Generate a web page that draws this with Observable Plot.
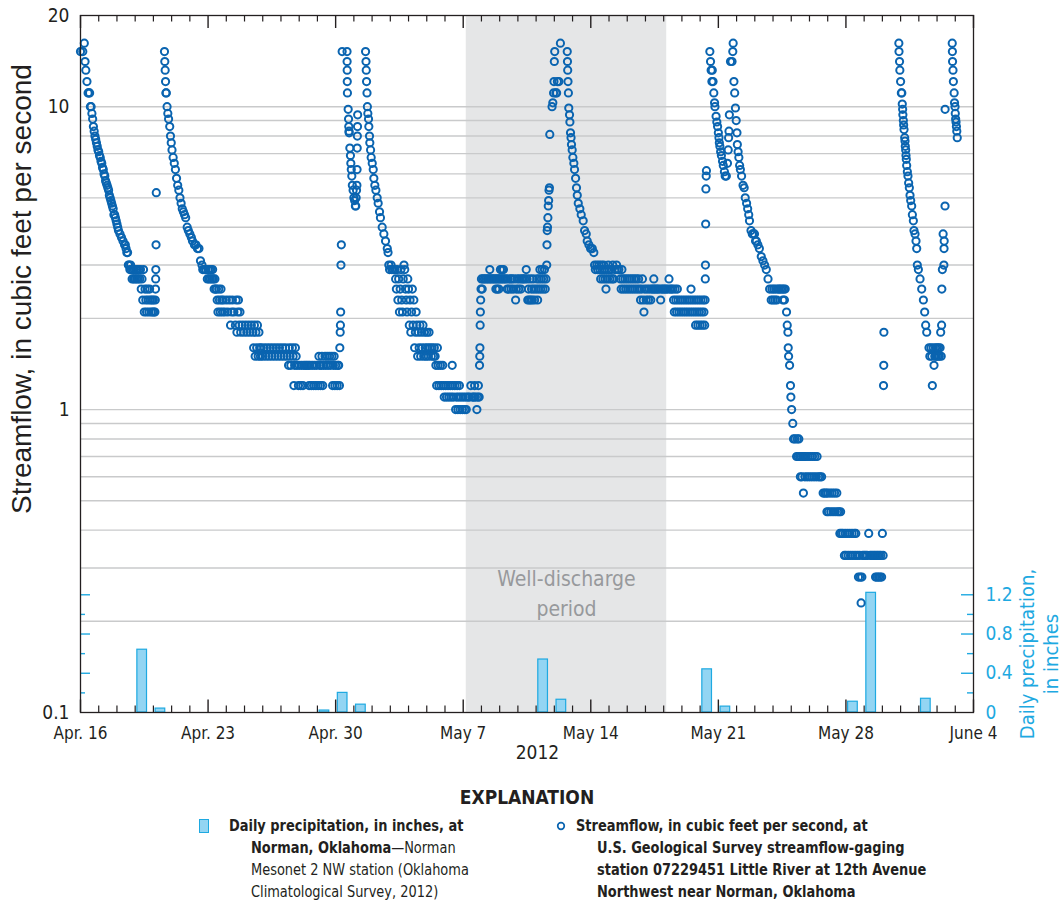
<!DOCTYPE html>
<html><head><meta charset="utf-8">
<script src="https://cdn.jsdelivr.net/npm/d3@7"></script>
<script src="https://cdn.jsdelivr.net/npm/@observablehq/plot@0.6"></script>
<style>
body{margin:0;background:#fff;}
#wrap{position:relative;width:1063px;height:903px;overflow:hidden;font-family:"Liberation Sans Narrow","Arial Narrow","DejaVu Sans Condensed",sans-serif;color:#231f20;}
#wrap svg.layer{position:absolute;left:0;top:0;}
.abs{position:absolute;white-space:nowrap;}
.expl{font-weight:bold;font-size:19px;left:0;width:1054px;text-align:center;top:786px;}
.leg{font-size:16px;line-height:22px;transform:scaleX(0.9);transform-origin:0 0;}
.b{font-weight:bold;}
</style></head>
<body><div id="wrap"></div>
<script>
// ---------------- data ----------------
const startDate = new Date(Date.UTC(2012, 3, 16));
const endDate = new Date(Date.UTC(2012, 5, 4));

// daily precipitation (inches), Norman Mesonet 2 NW
const precipDays = ["2012-04-19","2012-04-20","2012-04-29","2012-04-30","2012-05-01","2012-05-11","2012-05-12","2012-05-20","2012-05-21","2012-05-28","2012-05-29","2012-06-01"];
const precipInches = [0.64, 0.04, 0.02, 0.20, 0.08, 0.54, 0.13, 0.44, 0.06, 0.11, 1.22, 0.14];

// streamflow readings: [hours after Apr. 16 00:00, cubic feet per second]
const flowApr16 = [[0,15.2],[3,15.2],[5,16.2],[6,14.1],[7,13.2],[8.5,12.1],[10,11.1],[11,11.1],[12,11.1],[13,10],[14,10],[15,9.5],[16,9.1],[17,8.6],[18,8.3],[19,8],[20,7.8],[21,7.6],[22,7.4],[23,7.2],[24,7.1],[25,6.9],[26,6.8],[27,6.6],[28,6.5],[29,6.3],[30,6.2],[31,6],[32,5.9],[33,5.7],[34,5.6],[35,5.5],[36,5.4],[37,5.3],[38,5.1],[39,5.0],[40,4.9],[41,4.8],[42,4.7],[43,4.6],[44,4.4],[45,4.4],[46,4.3],[47,4.2],[48,4.1],[49,4.0],[50,3.9],[52,3.8],[54,3.7],[56,3.6],[58,3.5],[59,3.5],[60,3.4],[61,3.3],[62,3.3],[63,3.0],[64,3.0],[65,2.9],[66,3.0],[67,2.9],[68,2.7],[69,2.9],[70,2.7],[71,2.9],[72,2.7],[73,2.9],[74,2.7],[75,2.9],[76,2.7],[77,2.9],[78,2.7],[79,2.9],[80,2.5],[81,2.7],[82,2.3],[83,2.9],[84,2.1],[85,2.5],[86,2.3],[87,2.1],[88,2.5],[89,2.3],[90,2.1],[91,2.5],[92,2.3],[93,2.1],[94,2.3],[95,2.1],[96,2.3],[97,2.1],[98,2.1],[98.5,2.3],[98.8,2.5],[99,2.7],[99.2,2.9],[99.5,3.5],[99.8,5.2]];
const flowApr20 = [[110.6,15.2],[111,14.1],[111.5,13.2],[112,12.1],[112.5,11.1],[113,11.1],[114,10],[115,9.5],[116,9.1],[117.5,8.6],[118.5,8.0],[119.5,7.6],[120.5,7.2],[122,6.8],[123.5,6.5],[125,6.2],[126.5,5.8],[128,5.5],[129.5,5.3],[131,5.0],[132.5,4.8],[134,4.6],[135.5,4.5],[137,4.4],[138.5,4.3],[140.5,4.0],[142,3.9],[144,3.8],[146,3.7],[147.5,3.6],[150,3.5],[152,3.5],[154,3.4],[156,3.4],[158,3.1],[160,3.0],[161,2.9],[163,2.9],[165,2.9],[167,2.7],[168,2.9],[169,2.7],[170,2.9],[171,2.7],[172,2.9],[173,2.7],[174,2.9],[175,2.7],[176,2.5],[177,2.7],[178,2.5],[179,2.5],[180,2.3],[181,2.1],[182,2.5],[183,2.3],[184,2.1],[185,2.5],[186,2.3],[187,2.1],[188,2.3],[190,2.1],[192,2.3],[194,2.1],[196,2.3],[197.6,1.9],[199,2.1],[200,2.3],[202,2.1],[204,1.9],[205,2.3],[206,1.8],[207,2.1],[208,2.3],[209,1.9],[210,2.1],[211,1.8],[213,1.9],[215,1.8],[217,1.9],[219,1.8],[221,1.9],[223,1.8],[225,1.9],[227,1.8],[228,1.6],[229,1.9],[230,1.5],[231,1.8],[232,1.6],[233,1.9],[234,1.5],[235,1.8],[236,1.6],[237,1.5],[238,1.6],[240,1.5],[242,1.6],[244,1.5],[246,1.6],[248,1.5],[250,1.6],[252,1.5],[254,1.6],[256,1.5],[258,1.6],[260,1.5],[262,1.6],[264,1.5],[266,1.6],[268,1.5],[270,1.6],[272,1.5],[274,1.4],[275,1.6],[276,1.5],[277,1.4],[279,1.6],[280,1.5],[281,1.2],[282,1.4],[283,1.6],[284,1.5],[285,1.4],[287,1.2],[288,1.4],[290,1.2],[291,1.4],[293,1.2],[294,1.4],[296,1.4],[298,1.4],[300,1.4],[301,1.2],[302,1.4],[304,1.2],[305,1.4],[307,1.2],[308,1.4],[310,1.2],[311,1.4],[313,1.2],[314,1.5],[315,1.4],[316,1.2],[317,1.4],[318,1.5],[319,1.2],[320,1.4],[322,1.5],[323,1.4],[325,1.5],[326,1.4],[328,1.5],[329,1.4],[331,1.5],[332,1.2],[333,1.4],[334,1.5],[335,1.2],[336,1.4],[338,1.2],[339,1.4],[340,1.4],[341,1.2]];
const flowApr30 = [[341.5,1.6],[342,1.8],[342.3,1.9],[342.6,2.1],[343,3.0],[343.5,3.5],[344.6,15.2],[351,15.2],[351.1,14.1],[351.2,13.2],[351.3,12.1],[351.5,11.1],[352.5,9.8],[353,9.1],[353.3,8.6],[353.6,8.3],[353.8,8.2],[354.7,7.3],[355.5,6.9],[356,6.5],[356.6,6.2],[357.3,5.9],[358,5.5],[359,5.3],[360,5.0],[361,4.9],[362,4.7],[362.5,4.7],[363,5.0],[363.5,5.3],[364,5.5],[364.2,6.2],[364.4,7.3],[364.6,8.0],[364.8,8.6],[365,9.4],[375.4,15.2],[376,14.1],[376.3,13.2],[376.7,12.1],[377.3,11.1],[377.8,10],[378.4,9.5],[379.3,9.1],[379.7,8.6],[380.6,8.0],[381,7.6],[382,7.2],[382.8,6.8],[384.2,6.5],[385.5,6.2],[386.3,5.8],[387.6,5.5],[389,5.3],[390.7,5.0],[392,4.8],[393.8,4.5],[395,4.3],[397.3,4.0],[399.5,3.8],[401.7,3.6],[404,3.4],[405,3.3],[406,3.0],[407,2.9],[409,3.0],[410,2.9],[412,2.9],[414,2.9],[415,2.7],[416,2.5],[417,2.9],[418,2.3],[419,2.7],[420,2.1],[421,2.5],[422,2.9],[423,2.3],[424,2.1],[425,2.7],[426,3.0],[427,2.9],[428,2.5],[429,2.3],[430,2.1],[431,2.7],[432,2.5],[433,1.9],[434,2.3],[435,1.8],[436,2.1],[437,2.5],[438,1.9],[439,2.3],[440,1.6],[441,1.8],[442,2.1],[443,1.9],[444,1.5],[445,1.8],[446,1.6],[447,1.9],[448,1.5],[449,1.8],[450,1.6],[451,1.9],[452,1.5],[453,1.8],[454,1.6],[455,1.5],[456,1.8],[457,1.6],[458,1.5],[459,1.8],[460,1.6],[462,1.5],[463,1.6],[465,1.5],[466,1.6],[467,1.5],[468,1.4],[469,1.2],[470,1.6],[471,1.4],[472,1.2],[474,1.4],[475,1.2],[477,1.4],[478,1.2],[479,1.1],[481,1.2],[482,1.1],[484,1.2],[485,1.1],[487,1.2],[488,1.1],[489.5,1.4],[490,1.2],[491,1.1],[493,1.2],[494,1.0],[495,1.1],[496,1.2],[497,1.0],[498,1.1],[499,1.2],[500,1.0],[501,1.1],[503,1.0],[504,1.1],[506,1.0],[507,1.1],[508,1.0],[510,1.1],[512,1.1],[514,1.2],[516,1.1],[518,1.1],[519,1.2],[520,1.1],[522,1.0],[523,1.1],[524,1.2],[525,1.1]];
const flowMay07 = [[525.5,1.4],[525.8,1.5],[526,1.6],[526.3,1.9],[526.6,2.1],[527,2.3],[527.5,2.5],[528,2.7],[529,2.5],[530,2.7],[532,2.7],[534,2.7],[536,2.7],[538,2.7],[539,2.9],[540,2.7],[542,2.7],[544,2.7],[546,2.7],[547,2.5],[548,2.7],[549,2.5],[550,2.7],[551,2.5],[552,2.7],[553,2.9],[554,2.7],[555,2.9],[556,2.7],[557,2.9],[558,2.7],[560,2.7],[562,2.5],[563,2.7],[564,2.5],[566,2.7],[567,2.5],[568,2.7],[570,2.5],[571,2.7],[573,2.3],[574,2.5],[575,2.7],[577,2.5],[578,2.7],[580,2.5],[581,2.7],[583,2.7],[585,2.7],[587,2.9],[588,2.7],[589,2.3],[590,2.5],[591,2.3],[592,2.7],[593,2.3],[594,2.5],[595,2.3],[596,2.7],[597,2.5],[598,2.3],[600,2.5],[601,2.7],[602,2.3],[603,2.5],[604,2.7],[605,2.9],[606,2.5],[607,2.7],[608,2.9],[609,2.5],[610,2.7],[611,2.9],[612,2.5],[613,2.7],[614,3.0],[614.3,3.5],[614.6,3.9],[615,4.0],[615.5,4.3],[616,4.7],[616.5,4.9],[617,5.3],[617.5,5.4],[618,8.1],[621,10.0],[622,10.3],[623,11.1],[623.5,12.1],[624,14.1],[624.5,15.2],[626,11.1],[627,11.1],[628,12.1],[630,12.1],[632,16.2],[641,15.2],[641.3,14.1],[641.6,13.2],[642,12.1],[642.5,11.1],[643,9.9],[644,9.4],[644.5,8.9],[645.3,8.2],[646,7.9],[646.6,7.5],[647.5,7.2],[648.4,6.8],[649.7,6.5],[650.6,6.2],[652,5.8],[653.2,5.4],[654.2,5.1],[655.5,4.8],[657.6,4.6],[659.4,4.4],[662,4.2],[663.8,3.9],[666,3.8],[667.3,3.6],[669.5,3.5],[671.7,3.4],[674,3.4],[676,3.3],[677,3.0]];
const flowMay14 = [[678,2.9],[680,3.0],[681,2.9],[683,3.0],[684,2.9],[685,2.7],[686,3.0],[687,2.9],[688,2.7],[689,3.0],[690,2.9],[691,2.7],[692,2.5],[693,2.9],[694,2.7],[695,3.0],[696,2.9],[697,2.7],[699,2.9],[700,2.7],[701,3.0],[702,2.7],[704,2.9],[706,3.0],[707,2.9],[709,2.9],[711,2.7],[712,2.5],[713,2.9],[714,2.7],[715,2.5],[717,2.7],[718,2.5],[720,2.7],[721,2.5],[723,2.7],[724,2.5],[726,2.7],[727,2.5],[729,2.7],[730,2.5],[732,2.7],[733,2.5],[735,2.7],[736,2.5],[737.5,2.3],[739,2.5],[740,2.7],[741,2.3],[742,2.1],[743,2.5],[745,2.3],[746,2.5],[748,2.3],[749,2.5],[751,2.3],[752,2.5],[754,2.5],[755,2.7],[756,2.5],[758,2.5],[760,2.5],[762,2.5],[764,2.3],[765,2.5],[767,2.5],[769,2.5],[771,2.5],[773,2.5],[775,2.7],[776,2.5],[778,2.5],[780,2.5],[781,2.3],[782,2.1],[783,2.5],[784,2.3],[785,2.1],[786,2.5],[787,2.3],[788,2.1],[790,2.3],[791,2.1],[793,2.3],[794,2.1],[796,2.3],[797,2.1],[799,2.3],[800,2.1],[802,2.3],[803,2.1],[804,2.5],[805,2.3],[806,2.1],[808,2.3],[809,2.1],[810,1.9],[811,2.3],[812,2.1],[813,1.9],[814,2.3],[815,2.1],[816,1.9],[817,2.3],[818,2.1],[819,1.9],[820,2.3],[821,2.1],[822,1.9],[822.5,2.3],[822.8,2.7],[823,3.0],[823.3,4.1],[823.6,5.35],[824,5.9],[824.3,6.15]];
const flowMay20 = [[828.8,15.2],[829.7,14.1],[830.5,13.2],[831.5,12.1],[832,13.2],[833,12.1],[834,11.1],[835,10.3],[835.5,10.0],[837,9.3],[838,8.9],[839,8.6],[840,8.2],[840.8,7.9],[841.3,7.6],[842,7.4],[843,7.1],[844,6.9],[845.5,6.6],[846.5,6.4],[848,6.1],[849,5.9],[850.5,5.9],[852,6.5],[853,7.2],[853.5,7.9],[854,8.3],[854.5,9.4],[856,14.1],[858,14.1],[859,15.2],[859.5,16.2],[860.5,12.1],[861.5,11.1],[862.5,9.9],[863.5,9.0],[864.5,8.2],[865,7.5],[866,7.1],[867,6.8],[868,6.4],[869,6.2],[870.6,5.9],[872.5,5.5],[874,5.4],[875.4,5.0],[877.2,4.8],[878.6,4.6],[880,4.4],[881,4.2],[883,3.9],[884.7,3.8],[886,3.8],[887.6,3.8],[889,3.6],[890,3.6],[892,3.5],[894,3.4],[896.5,3.2],[898.7,3.1],[900.9,3.0],[903.1,2.9],[905.4,2.7],[907.5,2.5],[909.6,2.3],[910.5,2.5],[912,2.3],[913,2.5],[914.5,2.3],[915.5,2.5],[917,2.3],[918.4,2.5],[920,2.5],[922,2.5],[924,2.5],[925,2.3],[926,2.5],[927,2.3],[928,2.5],[929.8,2.1],[930.7,1.9],[931.6,1.8],[932,1.6],[932.5,1.5],[933.8,1.4],[935,1.2],[935.5,1.1],[936.5,1.0],[938,0.9],[939,0.8],[941,0.8],[943,0.7],[944,0.8],[945,0.7],[946,0.8],[947,0.7],[948,0.6],[949,0.7],[950,0.6],[951,0.7],[952,0.53],[953,0.7],[954,0.6],[955,0.7],[957,0.6],[958,0.7],[960,0.6],[961,0.7],[963,0.6],[964,0.7],[966,0.6],[967,0.7],[969,0.6],[970,0.7],[972,0.6],[974,0.6],[976,0.6],[978,0.53],[980,0.53],[982,0.53],[983,0.46],[984,0.53],[985,0.46],[987,0.53],[988,0.46],[990,0.53],[991,0.46],[993,0.53],[994,0.46],[996,0.53],[997,0.46],[999,0.46],[1000,0.39],[1001,0.46],[1002,0.39],[1004,0.39],[1006,0.33],[1007,0.39],[1008,0.33],[1010,0.39],[1011,0.33],[1013,0.39],[1014,0.33],[1016,0.39],[1017,0.33],[1019,0.39],[1020,0.33],[1021,0.39],[1023,0.33],[1024.5,0.28],[1026,0.33],[1027,0.28],[1028,0.23],[1029,0.28],[1030,0.33],[1032,0.33],[1034,0.33],[1036,0.33],[1038,0.39],[1040,0.33],[1042,0.33],[1044,0.33],[1046,0.33],[1047,0.28],[1048,0.33],[1049,0.28],[1050,0.33],[1051,0.28],[1052,0.33],[1053,0.28],[1054,0.33],[1055,0.28],[1056,0.39],[1057,0.33],[1057.5,1.2],[1057.8,1.4],[1058,1.8]];
const flowMay30 = [[1077.7,16.2],[1077.9,15.2],[1078.6,14.1],[1079,13.2],[1080,12.1],[1081,11.1],[1081.6,11.1],[1082.2,10.2],[1082.7,9.8],[1083,9.4],[1083.6,9.0],[1084,8.7],[1084.5,8.4],[1085.4,7.9],[1085.8,7.7],[1086.2,7.4],[1086.7,7.2],[1087.1,6.9],[1087.5,6.7],[1088,6.4],[1088.9,6.1],[1089.7,5.9],[1090.6,5.6],[1091.5,5.4],[1092.4,5.1],[1093.3,4.9],[1094.6,4.7],[1095.5,4.4],[1096.8,4.2],[1097.6,3.9],[1099,3.8],[1100.3,3.6],[1101.2,3.4],[1102,3.0],[1103.4,2.9],[1105.6,2.7],[1107.8,2.5],[1110,2.3],[1111.7,2.1],[1113,1.9],[1114.4,1.8],[1117.4,1.6],[1118.5,1.5],[1120,1.6],[1121,1.5],[1121.8,1.2],[1123,1.6],[1124,1.4],[1125,1.5],[1126,1.6],[1127,1.5],[1128,1.6],[1129,1.5],[1130,1.6],[1131,1.5],[1132,1.6],[1132.8,1.8],[1133.5,1.5],[1134,1.9],[1134.3,2.5],[1135,2.9],[1136,3.8],[1137,3.0],[1137.2,3.4],[1137.4,3.6],[1138.5,4.7],[1138.6,9.8],[1148,16.2],[1148.2,15.2],[1148.4,14.1],[1149,13.2],[1149.5,12.1],[1150.5,11.1],[1151,10.3],[1151.7,10.0],[1152,9.5],[1152.5,9.1],[1153,8.9],[1153.5,8.6],[1154,8.3],[1154.6,7.9]];

const wellPeriod = ["2012-05-07T04:00Z", "2012-05-18T04:00Z"];
const yTickValues = [0.1, 1, 10, 20];
const gridValues = [0.2, 0.3, 0.4, 0.5, 0.6, 0.7, 0.8, 0.9, 1, 2, 3, 4, 5, 6, 7, 8, 9, 10];
const xTickLabels = ["Apr. 16", "Apr. 23", "Apr. 30", "May 7", "May 14", "May 21", "May 28", "June 4"];
const precipLabelValues = [0, 0.4, 0.8, 1.2];
const precipMajorTicks = [0.4, 0.8, 1.2];
const precipMinorTicks = [0.2, 0.6, 1.0];

// ---------------- build ----------------
const HOUR = 3600e3, DAY = 864e5;
const flow = [flowApr16, flowApr20, flowApr30, flowMay07, flowMay14, flowMay20, flowMay30]
  .flatMap(a => a.map(([h, v]) => ({date: new Date(+startDate + h * HOUR), cfs: v})));
const precip = precipDays.map((d, i) => ({date: new Date(d + "T00:00Z"), inches: precipInches[i]}));
const shade = [{start: new Date(wellPeriod[0]), end: new Date(wellPeriod[1])}];
const allDays = d3.utcDay.range(startDate, new Date(+endDate + DAY));
const majorDays = allDays.filter((d, i) => i % 7 === 0);
const minorDays = allDays.filter((d, i) => i % 7 !== 0);
const labelByTime = new Map(majorDays.map((d, i) => [+d, xTickLabels[i]]));

const FONT = '"Liberation Sans Narrow","Arial Narrow","DejaVu Sans Condensed",sans-serif';
const W = 1063, H = 760, ML = 80, MR = 90, MT = 15, MB = 48;
const FW = W - ML - MR, FH = H - MT - MB;
const BLUE = "#0a64b0", CYAN = "#1ea9e1", INK = "#231f20";
const common = {
  width: W, height: H, marginLeft: ML, marginRight: MR, marginTop: MT, marginBottom: MB,
  x: {type: "utc", domain: [startDate, endDate], axis: null},
  style: {fontFamily: FONT, fontSize: "17px", color: INK, background: "transparent", overflow: "visible"}
};
const logY = {type: "log", domain: [0.1, 20], axis: null};

// layer A: shading + grid
const layerA = Plot.plot({...common, y: logY, marks: [
  Plot.rect(shade, {x1: "start", x2: "end", y1: 0.1, y2: 20, fill: "#e5e6e7"}),
  Plot.ruleY(gridValues, {stroke: "#c9cacb", strokeWidth: 1.4}),
  Plot.text(shade, {x: d => new Date((+d.start + +d.end) / 2), text: () => "Well-discharge\nperiod",
    frameAnchor: "bottom", dy: -121, lineAnchor: "middle", lineHeight: 1.4, fill: "#97999c", fontSize: 21})
]});

// layer B: precipitation on its own linear scale (0.2 in. = 19.6 px)
const precipTop = FH / 98.1;
const layerB = Plot.plot({...common, y: {domain: [0, precipTop], axis: null}, marks: [
  Plot.rect(precip, {x1: d => new Date(+d.date + 0.12 * DAY), x2: d => new Date(+d.date + 0.65 * DAY),
    y1: 0, y2: "inches", fill: "#93d5f3", stroke: CYAN, strokeWidth: 1.2}),
  Plot.ruleY(precipMajorTicks, {stroke: CYAN, strokeWidth: 1.4, insetRight: FW - 10}),
  Plot.ruleY(precipMinorTicks, {stroke: CYAN, strokeWidth: 1.4, insetRight: FW - 5}),
  Plot.ruleY(precipMajorTicks, {stroke: CYAN, strokeWidth: 1.4, insetLeft: FW - 12}),
  Plot.ruleY(precipMinorTicks, {stroke: CYAN, strokeWidth: 1.4, insetLeft: FW - 6}),
  Plot.text(precipLabelValues, {y: d => d, text: d => String(d), frameAnchor: "right", dx: 12,
    textAnchor: "start", lineAnchor: "middle", fill: CYAN, fontSize: 19}),
  Plot.text(["Daily precipitation,\nin inches"], {frameAnchor: "right", dx: 65, dy: 290, rotate: -90,
    textAnchor: "middle", lineAnchor: "middle", lineHeight: 1.2, fill: CYAN, fontSize: 20})
]});

// layer C: streamflow dots, frame, axes
const layerC = Plot.plot({...common, y: logY, marks: [
  Plot.dot(flow, {x: "date", y: "cfs", r: 3.6, stroke: BLUE, strokeWidth: 2}),
  Plot.ruleX(minorDays, {stroke: INK, strokeWidth: 1.2, insetTop: FH - 6.5}),
  Plot.ruleX(majorDays, {stroke: INK, strokeWidth: 1.4, insetTop: FH - 12.5}),
  Plot.ruleX(minorDays, {stroke: INK, strokeWidth: 1.2, insetBottom: FH - 6.5}),
  Plot.ruleX(majorDays, {stroke: INK, strokeWidth: 1.4, insetBottom: FH - 13}),
  Plot.frame({stroke: INK, strokeWidth: 1.3}),
  Plot.axisX(majorDays, {tickSize: 0, tickPadding: 14, tickFormat: d => labelByTime.get(+d), fontSize: 17, label: null}),
  Plot.axisY(yTickValues, {tickSize: 0, tickPadding: 11, tickFormat: d => String(d), fontSize: 19, label: null}),
  Plot.text(["2012"], {frameAnchor: "bottom", dx: 10.5, dy: 46, lineAnchor: "bottom", fontSize: 19}),
  Plot.text(["Streamflow, in cubic feet per second"], {frameAnchor: "left", dx: -58, dy: -75, rotate: -90,
    textAnchor: "middle", lineAnchor: "middle", fontSize: 28, fontFamily: '"Liberation Sans",Arial,sans-serif'})
]});

const wrap = document.getElementById("wrap");
for (const s of [layerA, layerB, layerC]) { s.classList.add("layer"); wrap.appendChild(s); }

// explanation (legend)
wrap.insertAdjacentHTML("beforeend", `
  <div class="abs expl">EXPLANATION</div>
  <div class="abs" style="left:199px;top:819px;width:8px;height:12px;background:#93d5f3;border:1px solid ${CYAN};"></div>
  <div class="abs leg" style="left:229px;top:815px;"><span class="b">Daily precipitation, in inches, at</span></div>
  <div class="abs leg" style="left:251px;top:837px;"><span class="b">Norman, Oklahoma</span>—Norman<br>Mesonet 2 NW station (Oklahoma<br>Climatological Survey, 2012)</div>
  <svg class="abs" style="left:555px;top:820px;" width="12" height="12"><circle cx="6" cy="6" r="3.3" fill="none" stroke="${BLUE}" stroke-width="1.7"/></svg>
  <div class="abs leg b" style="left:576px;top:815px;">Streamflow, in cubic feet per second, at</div>
  <div class="abs leg b" style="left:597px;top:837px;">U.S. Geological Survey streamflow-gaging<br>station 07229451 Little River at 12th Avenue<br>Northwest near Norman, Oklahoma</div>
`);
</script></body></html>
